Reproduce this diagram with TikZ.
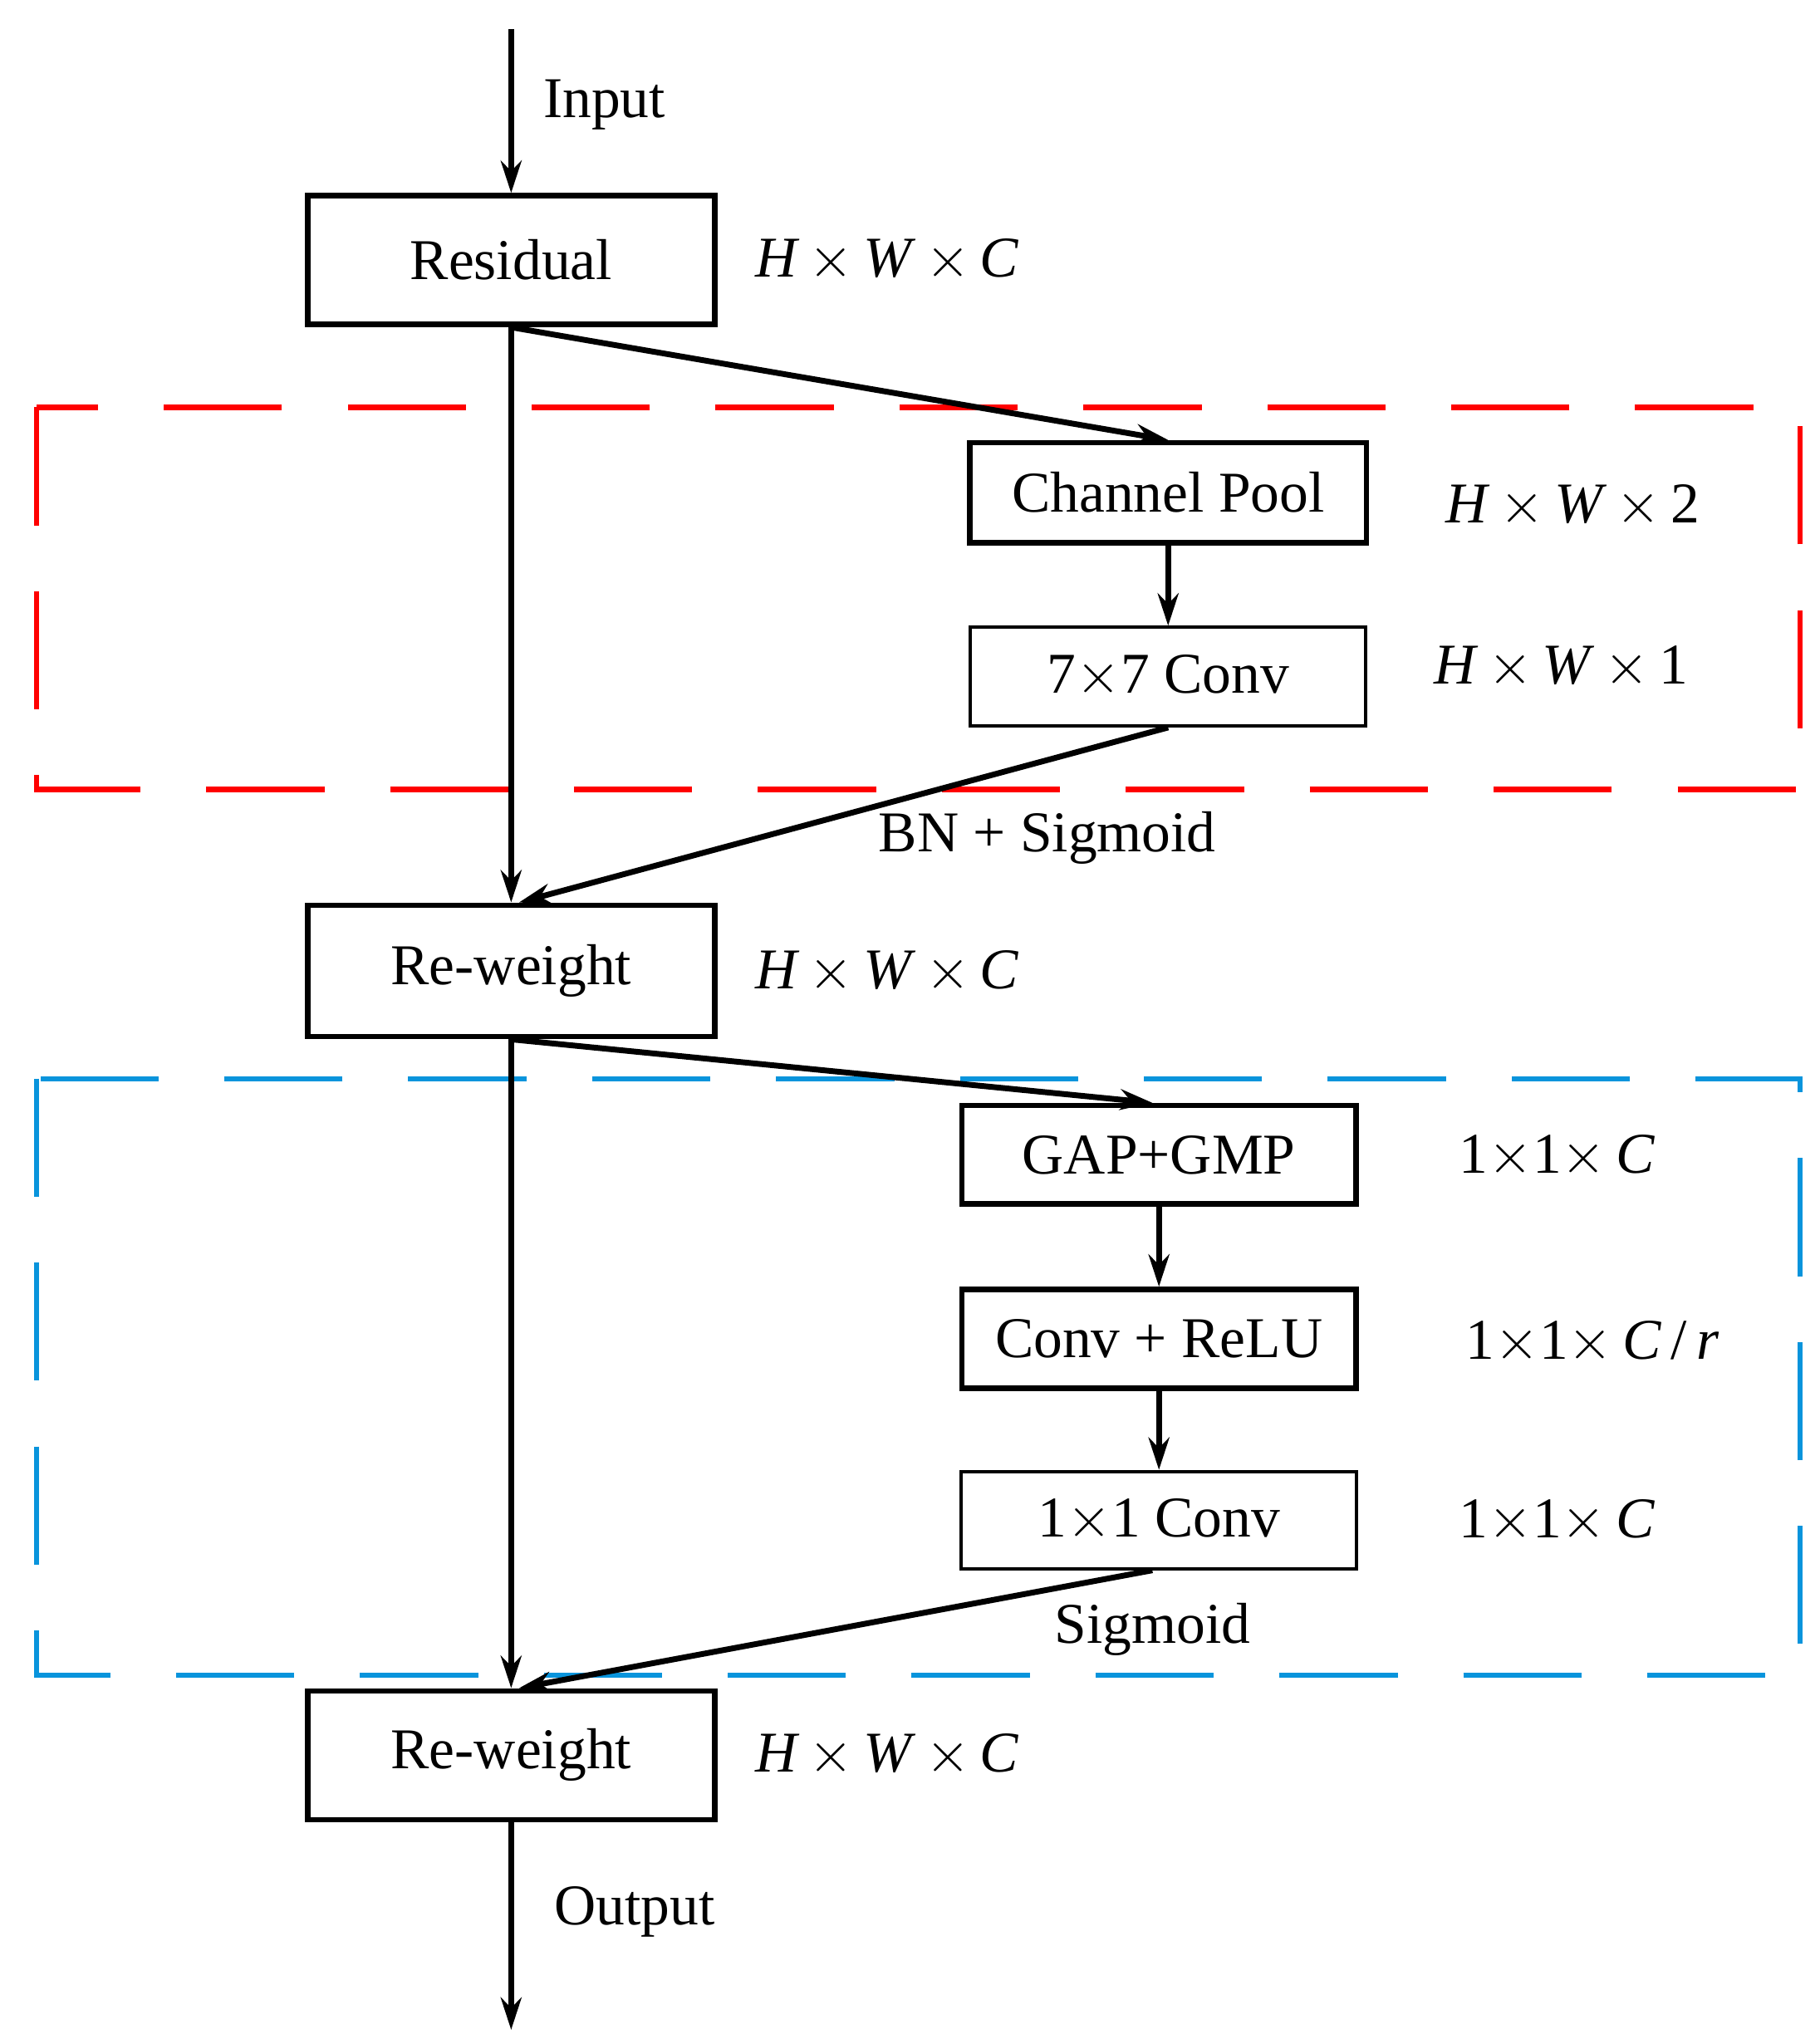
\documentclass[tikz,border=0pt]{standalone}
\usepackage{fontspec}
\setmainfont{Liberation Serif}
\usetikzlibrary{arrows.meta}
\newcommand{\dm}[3]{\textit{#1}\,$\times$\,\textit{#2}\,$\times$\,#3}
\begin{document}
\begin{tikzpicture}[x=0.02cm,y=-0.02cm,
  every node/.style={font=\fontsize{25}{30}\selectfont},
  box/.style={draw,line width=2.4pt,inner sep=0pt},
  tbox/.style={draw,line width=1.4pt,inner sep=0pt},
  arr/.style={line width=2.5pt,-{Stealth[length=14pt,width=9pt]}},
  dsh/.style={line width=2.3pt,dash pattern=on 1.8cm off 1cm}]
\useasboundingbox (0,0) rectangle (1385,1552);
\draw[dsh,red] (28,310) rectangle (1370,601);
\draw[dsh,cyan!80!blue] (28,821) rectangle (1370,1275);
\node[box,minimum width=6.2cm,minimum height=1.96cm] (res) at (389,198) {Residual};
\node[box,minimum width=6.04cm,minimum height=1.52cm] (cp) at (889,375) {Channel Pool};
\node[tbox,minimum width=6.02cm,minimum height=1.5cm] (c7) at (889,515) {7$\times$7 Conv};
\node[box,minimum width=6.2cm,minimum height=2cm] (rw1) at (389,739) {Re-weight};
\node[box,minimum width=6.0cm,minimum height=1.5cm] (gap) at (882,879) {GAP+GMP};
\node[box,minimum width=6.0cm,minimum height=1.5cm] (cr) at (882,1019) {Conv + ReLU};
\node[tbox,minimum width=6.02cm,minimum height=1.48cm] (c1) at (882,1157) {1$\times$1 Conv};
\node[box,minimum width=6.2cm,minimum height=1.96cm] (rw2) at (389,1336) {Re-weight};
\coordinate (in) at (389,22);
\coordinate (out) at (389,1545);
\node (li) at (460,80) {Input};
\node (lo) at (483,1455) {Output};
\node (d1) at (675,198) {\dm HW{\textit{C}}};
\node (d2) at (1197,385) {\dm HW2};
\node (d3) at (1188,508) {\dm HW1};
\node (d4) at (675,740) {\dm HW{\textit{C}}};
\node (d5) at (1185,880) {1$\times$1$\times$\,\textit{C}};
\node (d6) at (1212,1022) {1$\times$1$\times$\,\textit{C}\,/\,\textit{r}};
\node (d7) at (1185,1158) {1$\times$1$\times$\,\textit{C}};
\node (d8) at (675,1336) {\dm HW{\textit{C}}};
\node (bn) at (797,638) {BN + Sigmoid};
\node (sg) at (877,1240) {Sigmoid};
\draw[arr] (in) -- (res.north);
\draw[arr] (res.south) -- (rw1.north);
\draw[arr] (res.south) -- (cp.north);
\draw[arr] (cp) -- (c7);
\draw[arr] (c7.south) -- ([xshift=0.12cm]rw1.north);
\draw[arr] (rw1.south) -- (rw2.north);
\draw[arr] (rw1.south) -- ([xshift=-0.1cm]gap.north);
\draw[arr] (gap) -- (cr);
\draw[arr] (cr) -- (c1);
\draw[arr] ([xshift=-0.1cm]c1.south) -- ([xshift=0.12cm]rw2.north);
\draw[arr] (rw2.south) -- (out);
\end{tikzpicture}
\end{document}
